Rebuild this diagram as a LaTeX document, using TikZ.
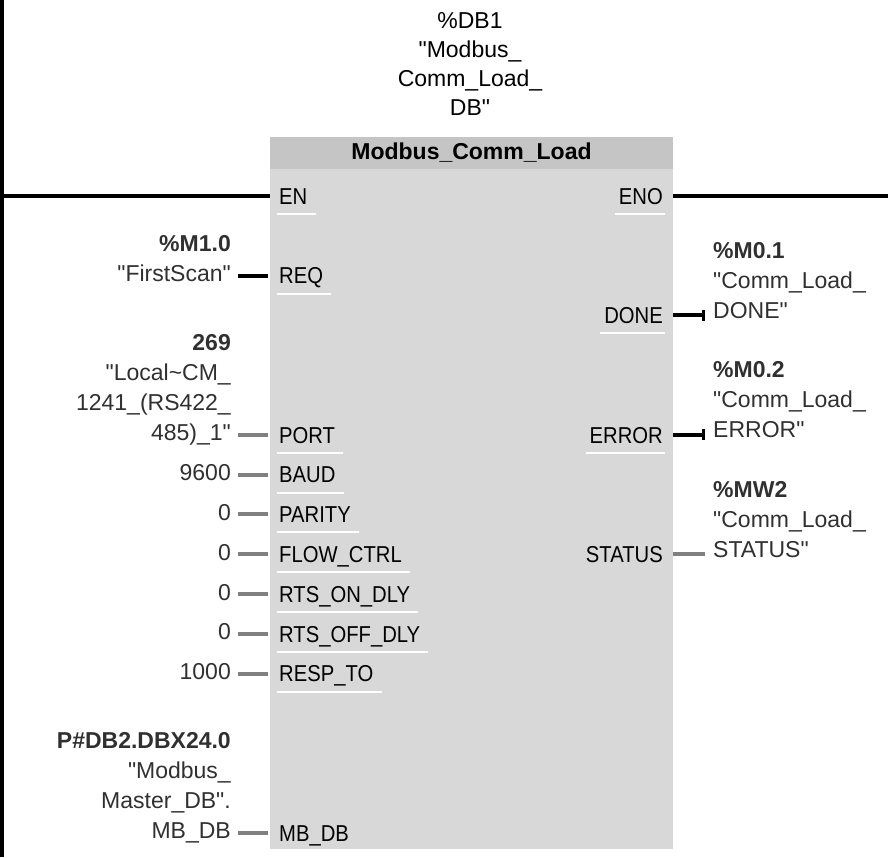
\documentclass[tikz,border=0pt]{standalone}
\usepackage{fontspec}
\setmainfont{Liberation Sans}
\newfontfamily\pinfont{Liberation Sans}[FakeStretch=0.88]
\usetikzlibrary{positioning, calc, arrows.meta}

\newcommand{\dq}{\textquotedbl}

\definecolor{fbbody}{RGB}{216,216,216}
\definecolor{fbhead}{RGB}{197,197,197}
\definecolor{opgray}{RGB}{48,48,48}
\definecolor{wiregray}{RGB}{128,128,128}

\begin{document}
\begin{tikzpicture}[x=1pt, y=-1pt,
    fblock/.style={fill=fbbody, inner sep=0pt},
    fhead/.style={fill=fbhead, inner sep=0pt, font=\fontsize{23}{28}\selectfont},
    pin/.style={font=\pinfont\fontsize{23}{28}\selectfont, inner sep=0pt, text height=16.5pt, text depth=0pt},
    inpin/.style={pin, anchor=west},
    outpin/.style={pin, anchor=east},
    opnd/.style={font=\fontsize{23}{30}\selectfont, text=opgray, inner sep=0pt, execute at end node=\strut},
    inop/.style={opnd, align=right, anchor=south east, yshift=-15.25pt},
    outop/.style={opnd, align=left, anchor=south west, yshift=-12.25pt},
    rung/.style={line width=4pt},
    wire/.style={line width=4pt},
    uline/.style={white, line width=2pt}
]
    \useasboundingbox (0,0) rectangle (888,857);

    % power rail and the box
    \coordinate (railtop) at (2,0);
    \coordinate (railbot) at (2,857);
    \coordinate (rungend) at (888,196);
    \draw[rung] (railtop) -- (railbot);

    \node (fb) [fblock, minimum width=403pt, minimum height=680pt] at (471.5,509) {};
    \node (hdr) [fhead, minimum width=403pt, minimum height=32pt, anchor=south] at (fb.north) {\textbf{Modbus\_Comm\_Load}};
    \node (idb) [opnd, text=black, font=\fontsize{23}{29}\selectfont, align=center, anchor=south, yshift=-17.25pt] at (470,107) {\%DB1\\\dq Modbus\_\\Comm\_Load\_\\DB\dq};

    % EN / ENO
    \node (EN) [inpin] at (279,196) {EN};
    \node (ENO) [outpin] at (663,196) {ENO};
    \draw[rung] (railtop |- EN.west) -- (fb.west |- EN.west);
    \draw[rung] (fb.east |- ENO.east) -- (rungend);

    % inputs
    \node (REQ) [inpin] at (279,275.6) {REQ};
    \node (vREQ) [inop] at ([xshift=-48pt]REQ.west) {\textbf{\%M1.0}\\\dq FirstScan\dq};
    \draw[wire] ([xshift=-41pt]REQ.west) -- ([xshift=-11pt]REQ.west);

    \node (PORT) [inpin] at (279,434.8) {PORT};
    \node (vPORT) [inop] at ([xshift=-48pt]PORT.west) {\textbf{269}\\\dq Local\textasciitilde CM\_\\1241\_(RS422\_\\485)\_1\dq};
    \draw[wire, wiregray] ([xshift=-41pt]PORT.west) -- ([xshift=-11pt]PORT.west);

    \foreach \nm/\row/\txt/\val in {BAUD/7/BAUD/9600, PAR/8/PARITY/0, FLOW/9/FLOW\_CTRL/0, RTSON/10/RTS\_ON\_DLY/0, RTSOFF/11/RTS\_OFF\_DLY/0, RESP/12/RESP\_TO/1000}
    {
        \node (\nm) [inpin] at (279,{196+39.8*\row}) {\txt};
        \node (v\nm) [inop] at ([xshift=-48pt]\nm.west) {\val};
        \draw[wire, wiregray] ([xshift=-41pt]\nm.west) -- ([xshift=-11pt]\nm.west);
    }

    \node (MBDB) [inpin] at (279,832.8) {MB\_DB};
    \node (vMBDB) [inop] at ([xshift=-48pt]MBDB.west) {\textbf{P\#DB2.DBX24.0}\\\dq Modbus\_\\Master\_DB\dq.\\MB\_DB};
    \draw[wire, wiregray] ([xshift=-41pt]MBDB.west) -- ([xshift=-11pt]MBDB.west);

    % outputs
    \node (DONE) [outpin] at (663,315.4) {DONE};
    \node (vDONE) [outop] at ([xshift=50pt]DONE.east) {\textbf{\%M0.1}\\\dq Comm\_Load\_\\DONE\dq};
    \draw[wire, -{Bar[width=11pt, line width=3pt]}] ([xshift=10pt]DONE.east) -- ([xshift=42pt]DONE.east);

    \node (ERROR) [outpin] at (663,434.8) {ERROR};
    \node (vERROR) [outop] at ([xshift=50pt]ERROR.east) {\textbf{\%M0.2}\\\dq Comm\_Load\_\\ERROR\dq};
    \draw[wire, -{Bar[width=11pt, line width=3pt]}] ([xshift=10pt]ERROR.east) -- ([xshift=42pt]ERROR.east);

    \node (STATUS) [outpin] at (663,554.2) {STATUS};
    \node (vSTATUS) [outop] at ([xshift=50pt]STATUS.east) {\textbf{\%MW2}\\\dq Comm\_Load\_\\STATUS\dq};
    \draw[wire, wiregray] ([xshift=10pt]STATUS.east) -- ([xshift=42pt]STATUS.east);

    % pin underlines
    \foreach \p in {EN, REQ, PORT, BAUD, PAR, FLOW, RTSON, RTSOFF, RESP}
        \draw[uline] ([xshift=-2pt, yshift=-18pt]\p.west) -- ([xshift=8pt, yshift=-18pt]\p.east);
    \foreach \p in {ENO, DONE, ERROR}
        \draw[uline] ([xshift=-4pt, yshift=-18pt]\p.west) -- ([xshift=2pt, yshift=-18pt]\p.east);
\end{tikzpicture}
\end{document}
